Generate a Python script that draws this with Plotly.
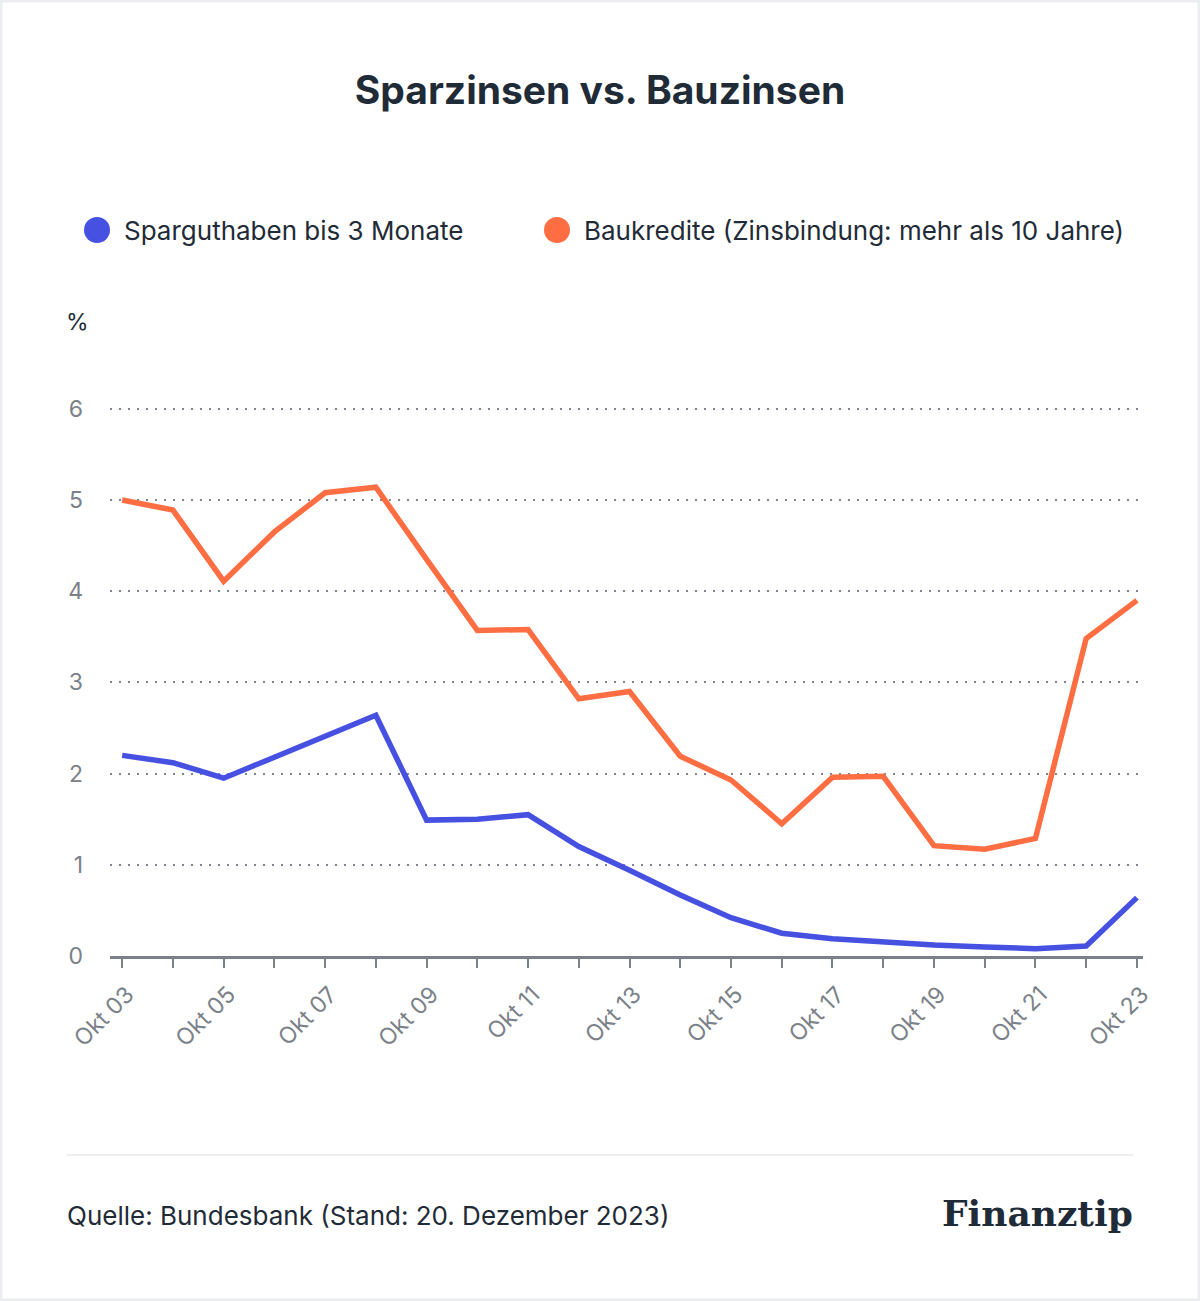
import plotly.graph_objects as go

# ---- data ----
categories = ["Okt 03", "Okt 04", "Okt 05", "Okt 06", "Okt 07", "Okt 08", "Okt 09",
              "Okt 10", "Okt 11", "Okt 12", "Okt 13", "Okt 14", "Okt 15", "Okt 16",
              "Okt 17", "Okt 18", "Okt 19", "Okt 20", "Okt 21", "Okt 22", "Okt 23"]
spar_values = [2.20, 2.12, 1.95, 2.18, 2.41, 2.64, 1.49, 1.50, 1.55, 1.20, 0.94,
               0.67, 0.42, 0.25, 0.19, 0.15, 0.12, 0.10, 0.08, 0.11, 0.64]
bau_values = [5.00, 4.89, 4.11, 4.65, 5.08, 5.14, 4.35, 3.57, 3.58, 2.82, 2.90,
              2.19, 1.93, 1.45, 1.96, 1.97, 1.21, 1.17, 1.29, 3.48, 3.90]
tick_labels = [c if i % 2 == 0 else "" for i, c in enumerate(categories)]
y_ticks = [0, 1, 2, 3, 4, 5, 6]
series_names = ["Sparguthaben bis 3 Monate", "Baukredite (Zinsbindung: mehr als 10 Jahre)"]

# ---- style ----
W, H = 1200, 1301
ML, MR, MT, MB = 110, 57, 407, 345
PW, PH = W - ML - MR, H - MT - MB
BLUE = "#4650E1"
ORANGE = "#FF6E42"
DARK = "#1F2B37"
GRAY = "#7B8189"
FONT = "Inter"

def px(x):
    return (x - ML) / PW

def py(y):
    return (H - MB - y) / PH

fig = go.Figure()
fig.add_trace(go.Scatter(x=categories, y=spar_values, mode="lines",
                         line=dict(color=BLUE, width=5.5), name=series_names[0],
                         showlegend=False))
fig.add_trace(go.Scatter(x=categories, y=bau_values, mode="lines",
                         line=dict(color=ORANGE, width=5.5), name=series_names[1],
                         showlegend=False))

shapes = [
    # outer border
    dict(type="rect", xref="paper", yref="paper", x0=px(1), x1=px(W - 1), y0=py(H - 1), y1=py(1),
         line=dict(color="#EBEDF0", width=3), layer="below"),
    # divider
    dict(type="line", xref="paper", yref="paper", x0=px(67), x1=px(1133), y0=py(1155), y1=py(1155),
         line=dict(color="#E6E8EC", width=1.5)),
]
# legend circles
for cx, col in [(97, BLUE), (557, ORANGE)]:
    shapes.append(dict(type="circle", xref="paper", yref="paper", xsizemode="pixel", ysizemode="pixel",
                       xanchor=px(cx), yanchor=py(230), x0=-13, x1=13, y0=-13, y1=13,
                       fillcolor=col, line=dict(width=0)))

annotations = [
    dict(text=series_names[0], xref="paper", yref="paper", x=px(122), y=py(230),
         xanchor="left", yanchor="middle", showarrow=False, font=dict(family=FONT, size=26, color=DARK)),
    dict(text=series_names[1], xref="paper", yref="paper", x=px(582), y=py(230),
         xanchor="left", yanchor="middle", showarrow=False, font=dict(family=FONT, size=26, color=DARK)),
    dict(text="%", xref="paper", yref="paper", x=px(77), y=py(322),
         xanchor="center", yanchor="middle", showarrow=False, font=dict(family=FONT, size=23, color=DARK)),
    dict(text="Quelle: Bundesbank (Stand: 20. Dezember 2023)", xref="paper", yref="paper",
         x=px(65), y=py(1215), xanchor="left", yanchor="middle", showarrow=False,
         font=dict(family=FONT, size=26, color=DARK)),
    dict(text="<b>Finanztip</b>", xref="paper", yref="paper",
         x=px(1135), y=py(1213), xanchor="right", yanchor="middle", showarrow=False,
         font=dict(family="DejaVu Serif", size=36, color=DARK)),
]

fig.update_layout(
    width=W, height=H,
    margin=dict(l=ML, r=MR, t=MT, b=MB),
    paper_bgcolor="white", plot_bgcolor="white",
    title=dict(text="<b>Sparzinsen vs. Bauzinsen</b>", x=0.5, xanchor="center",
               xref="container", yref="container", y=1 - 90 / H, yanchor="middle",
               font=dict(family=FONT, size=39, color=DARK)),
    shapes=shapes, annotations=annotations,
    showlegend=False,
)
fig.update_xaxes(
    type="category", range=[-0.24, 20.12],
    tickmode="array", tickvals=categories, ticktext=tick_labels,
    tickangle=-45, ticks="outside", ticklen=9, tickwidth=2, tickcolor=GRAY,
    showline=True, linecolor=GRAY, linewidth=3,
    showgrid=False, zeroline=False,
    ticklabelshift=5, ticklabelstandoff=4,
    tickfont=dict(family=FONT, size=23, color=GRAY),
)
fig.update_yaxes(
    range=[0, 6.02], tickmode="array", tickvals=y_ticks,
    showgrid=True, gridcolor="#7D8590", gridwidth=2, griddash="2px,7px",
    zeroline=False, showline=False, ticks="",
    ticklabelstandoff=26,
    tickfont=dict(family=FONT, size=23, color=GRAY),
)

fig.write_html("out.html")
